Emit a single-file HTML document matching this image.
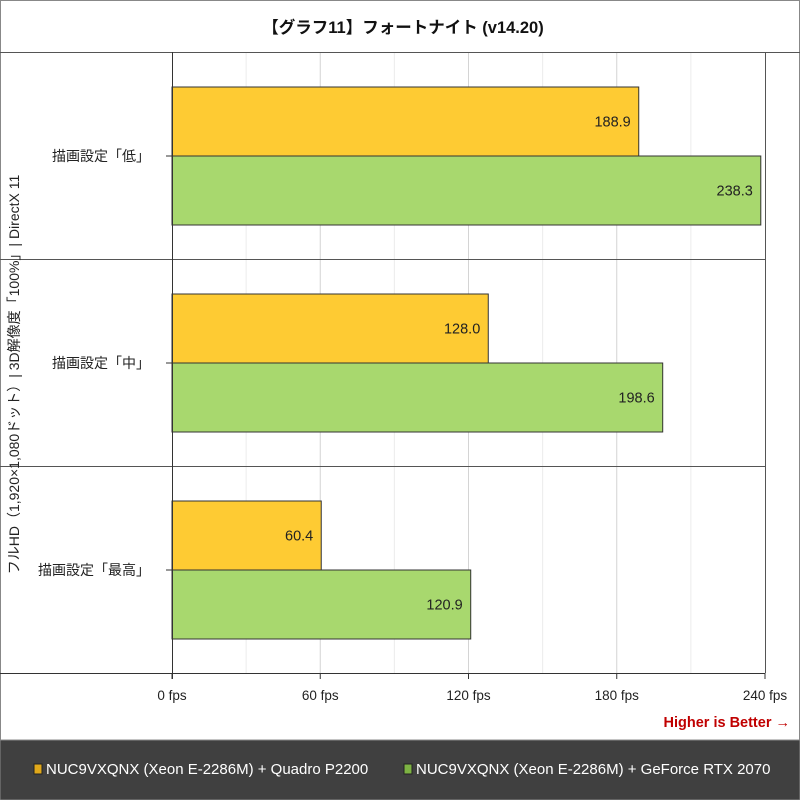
<!DOCTYPE html>
<html><head><meta charset="utf-8"><style>
body{margin:0;background:#fff;font-family:"Liberation Sans","Noto Sans CJK JP",sans-serif;}
#wrap{position:relative;width:800px;height:800px;overflow:hidden;}
</style></head><body>
<div id="wrap">
<svg id="svg" width="800" height="800" xmlns="http://www.w3.org/2000/svg"></svg>
</div>
<script>
const categories=["描画設定「低」","描画設定「中」","描画設定「最高」"];
const seriesQuadro=[188.9,128.0,60.4];
const seriesRTX=[238.3,198.6,120.9];
const seriesNames=["NUC9VXQNX (Xeon E-2286M) + Quadro P2200","NUC9VXQNX (Xeon E-2286M) + GeForce RTX 2070"];
const tickValues=[0,60,120,180,240];
const tickLabels=["0 fps","60 fps","120 fps","180 fps","240 fps"];
const minorValues=[30,90,150,210];

const NS="http://www.w3.org/2000/svg";
const svg=document.getElementById('svg');
const X0=172,X1=765,Y0=52,Y1=673,MAX=240;
const x=v=>X0+(v/MAX)*(X1-X0);
const gh=(Y1-Y0)/categories.length;
const gy=i=>Y0+i*gh;
function el(t,a,txt){const e=document.createElementNS(NS,t);for(const k in a)e.setAttribute(k,a[k]);if(txt!==undefined)e.textContent=txt;svg.appendChild(e);return e;}
let e;
e=el('rect',{x:0.5,y:0.5,width:799,height:799,fill:'#fff',stroke:'#888'});


e=el('text',{x:403,y:33,'text-anchor':'middle','font-size':16.5,'font-weight':'bold',fill:'#111'},'【グラフ11】フォートナイト (v14.20)');


minorValues.forEach(v=>{e=el('line',{x1:x(v),x2:x(v),y1:Y0,y2:Y1,stroke:'#ececec'});

});
tickValues.forEach((v,i)=>{if(v>0&&v<MAX){e=el('line',{x1:x(v),x2:x(v),y1:Y0,y2:Y1,stroke:'#d4d4d4'});

}
e=el('line',{x1:x(v),x2:x(v),y1:Y1,y2:Y1+6,stroke:'#333'});


e=el('text',{x:x(v),y:Y1+27,'text-anchor':'middle','font-size':13.5,fill:'#222'},tickLabels[i]);

});
e=el('line',{x1:0,x2:800,y1:Y0+0.5,y2:Y0+0.5,stroke:'#555'});


e=el('line',{x1:X1+0.5,x2:X1+0.5,y1:Y0,y2:Y1,stroke:'#555'});


for(let i=1;i<categories.length;i++){e=el('line',{x1:0,x2:X1,y1:Math.round(gy(i))+0.5,y2:Math.round(gy(i))+0.5,stroke:'#555'});

}
const bh=69,off=35;
categories.forEach((c,i)=>{
 const top=gy(i)+off;
 e=el('rect',{x:X0,y:top,width:x(seriesQuadro[i])-X0,height:bh,fill:'#fecb33',stroke:'#333'});
 
 
 e=el('text',{x:x(seriesQuadro[i])-8,y:top+bh/2+5,'text-anchor':'end','font-size':14.5,fill:'#222'},seriesQuadro[i].toFixed(1));
 
 
 e=el('rect',{x:X0,y:top+bh,width:x(seriesRTX[i])-X0,height:bh,fill:'#a8d86e',stroke:'#333'});
 
 
 e=el('text',{x:x(seriesRTX[i])-8,y:top+bh*1.5+5,'text-anchor':'end','font-size':14.5,fill:'#222'},seriesRTX[i].toFixed(1));
 
 
 e=el('text',{x:150,y:top+bh+5,'text-anchor':'end','font-size':14,fill:'#222'},c);
 
 
 e=el('line',{x1:X0-6,x2:X0,y1:top+bh,y2:top+bh,stroke:'#333'});
 
 
});
e=el('line',{x1:X0+0.5,x2:X0+0.5,y1:Y0,y2:Y1+6,stroke:'#333'});


e=el('line',{x1:0,x2:X1,y1:Y1+0.5,y2:Y1+0.5,stroke:'#333'});


e=el('text',{x:0,y:0,transform:'translate(19,'+((Y0+Y1)/2+12)+') rotate(-90)','text-anchor':'middle','font-size':14,fill:'#222'},'フルHD（1,920×1,080ドット）| 3D解像度「100%」| DirectX 11');


e=el('text',{x:790,y:727,'text-anchor':'end','font-size':14.5,'font-weight':'bold',fill:'#c00000'},'Higher is Better →');


e=el('rect',{x:0,y:740,width:800,height:60,fill:'#404040',stroke:'#888'});


const lx=[34,404],lc=['#e0a81a','#7db343'];
seriesNames.forEach((n,i)=>{
 e=el('rect',{x:lx[i],y:764,width:8,height:10,fill:lc[i],stroke:'#222'});
 
 
 e=el('text',{x:lx[i]+12,y:774,'font-size':15,fill:'#fff'},n);
 
 
});
</script>
</body></html>
